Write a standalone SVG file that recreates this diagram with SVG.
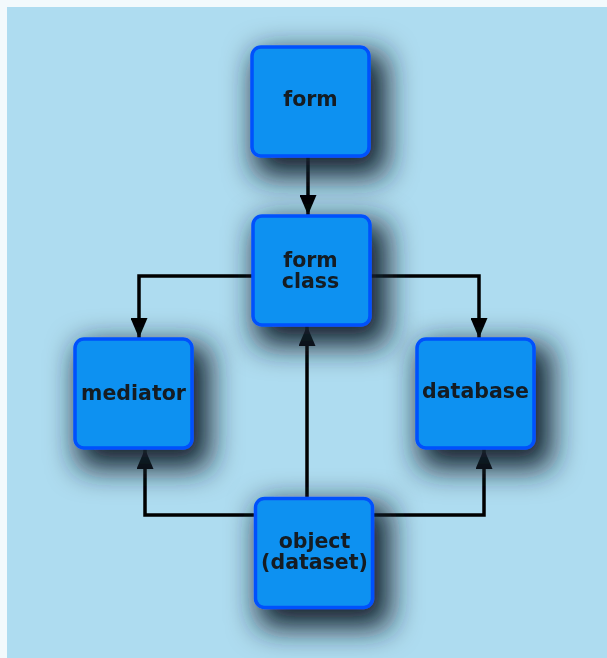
<svg xmlns="http://www.w3.org/2000/svg" width="607" height="658" viewBox="0 0 607 658">
<style>
.box{fill:#0b91f1;stroke:#0451fc;stroke-width:3.5}
.lbl{font-family:"DejaVu Sans",sans-serif;font-weight:bold;font-size:20.5px;fill:#131b22;text-anchor:middle}
.edge{fill:none;stroke:#000;stroke-width:3.5}
</style>
<defs>
<filter id="sh" x="-80%" y="-80%" width="260%" height="260%">
<feMorphology in="SourceAlpha" operator="dilate" radius="6" result="d"/>
<feGaussianBlur in="d" stdDeviation="15"/>
<feOffset dx="10" dy="13" result="b"/>
<feFlood flood-color="#15222e" flood-opacity="1"/>
<feComposite in2="b" operator="in" result="s"/>
<feMerge><feMergeNode in="s"/><feMergeNode in="SourceGraphic"/></feMerge>
</filter>
<marker id="ah" viewBox="0 0 20 17" refX="20" refY="8.5" markerWidth="20" markerHeight="17" markerUnits="userSpaceOnUse" orient="auto">
<path d="M0,0 L20,8.5 L0,17 Z" fill="#000"/>
</marker>
</defs>
<rect x="0" y="0" width="607" height="658" fill="#f2f9fc"/>
<rect x="7" y="7" width="600" height="651" fill="#aedcf0"/>
<g id="connectors">
<path class="edge" d="M308,157 V215" marker-end="url(#ah)"/>
<path class="edge" d="M252,276 H139 V338" marker-end="url(#ah)"/>
<path class="edge" d="M370,276 H479 V338" marker-end="url(#ah)"/>
<path class="edge" d="M307,497 V326" marker-end="url(#ah)"/>
<path class="edge" d="M255,515 H145 V449" marker-end="url(#ah)"/>
<path class="edge" d="M373,515 H484 V449" marker-end="url(#ah)"/>
</g>
<g id="form" filter="url(#sh)">
<rect class="box" x="252" y="47" width="117" height="109" rx="9"/>
<text class="lbl" x="310.5" y="106">form</text>
</g>
<g id="form-class" filter="url(#sh)">
<rect class="box" x="253" y="216" width="117" height="109" rx="9"/>
<text class="lbl" x="310.5" y="267">form</text>
<text class="lbl" x="310.5" y="287.5">class</text>
</g>
<g id="mediator" filter="url(#sh)">
<rect class="box" x="75" y="339" width="117" height="109" rx="9"/>
<text class="lbl" x="133.5" y="400">mediator</text>
</g>
<g id="database" filter="url(#sh)">
<rect class="box" x="417" y="339" width="117" height="109" rx="9"/>
<text class="lbl" x="475.5" y="398">database</text>
</g>
<g id="object" filter="url(#sh)">
<rect class="box" x="255.5" y="498.5" width="117" height="109" rx="9"/>
<text class="lbl" x="314.5" y="548">object</text>
<text class="lbl" x="314.5" y="568.5">(dataset)</text>
</g>
</svg>
